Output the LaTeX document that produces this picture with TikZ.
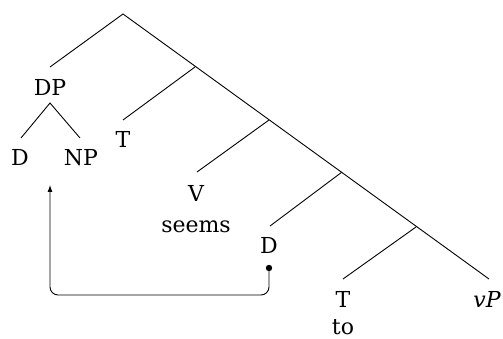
\documentclass[tikz,border=0pt]{standalone}
\usepackage{fontspec}
\setmainfont{DejaVu Serif}
\usetikzlibrary{arrows.meta}
\begin{document}
\begin{tikzpicture}[x=1pt,y=-1pt,
  branch/.style={line width=0.9pt},
  lbl/.style={anchor=base,inner sep=0pt,font=\fontsize{22}{26}\selectfont},
  mover/.style={line width=0.9pt,rounded corners=8pt,-{Latex[length=7pt,width=5pt]}}]
\useasboundingbox (0,0) rectangle (503,339);
% junctions
\coordinate (root) at (123,14);
\coordinate (j1) at (195,67);
\coordinate (j2) at (269,120);
\coordinate (j3) at (342,172);
\coordinate (j4) at (416,227);
\coordinate (dpj) at (50,103);
% branch ends
\coordinate (eDP) at (50,67);
\coordinate (eD) at (21,138);
\coordinate (eNP) at (80,138);
\coordinate (eT) at (123,120);
\coordinate (eV) at (197,172);
\coordinate (eD2) at (270,226);
\coordinate (eT2) at (343,279);
\coordinate (evP) at (489,279);
\coordinate (turn) at (269,295);
\coordinate (corner) at (50,295);
\coordinate (tip) at (50,185);
% labels
\node[lbl] (DP) at (50,96) {DP};
\node[lbl] (D) at (20,166) {D};
\node[lbl] (NP) at (81,166) {NP};
\node[lbl] (T) at (123,148) {T};
\node[lbl] (V) at (196,202) {V};
\node[lbl] (seems) at (196,233) {seems};
\node[lbl] (D2) at (269,253) {D};
\node[lbl] (T2) at (343,307) {T};
\node[lbl] (to) at (343,334) {to};
\node[lbl] (vP) at (487,307) {\itshape vP};
% tree
\draw[branch] (eDP) -- (root) -- (evP);
\draw[branch] (j1) -- (eT);
\draw[branch] (j2) -- (eV);
\draw[branch] (j3) -- (eD2);
\draw[branch] (j4) -- (eT2);
\draw[branch] (eD) -- (dpj) -- (eNP);
% movement
\fill (269,268) coordinate (dot) circle (3.2pt);
\draw[mover] (dot) -- (turn) -- (corner) -- (tip);
\end{tikzpicture}
\end{document}
